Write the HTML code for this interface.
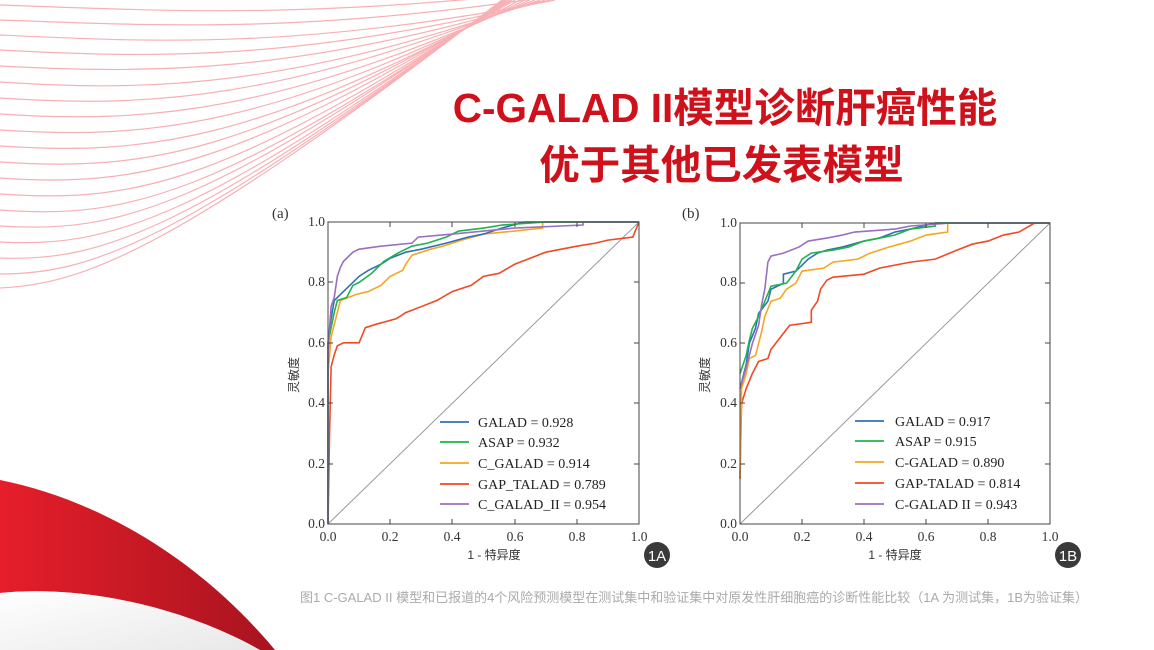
<!DOCTYPE html>
<html><head><meta charset="utf-8"><style>
body{margin:0;width:1154px;height:650px;overflow:hidden;background:#fff;position:relative;font-family:"Liberation Sans","Noto Sans CJK SC",sans-serif}
.t{position:absolute;left:0;text-align:center;color:#cf111b;font-weight:bold;font-family:"Liberation Sans","Noto Sans CJK SC",sans-serif;line-height:1}
</style></head><body>
<svg width="1154" height="650" style="position:absolute;left:0;top:0">
<defs>
<linearGradient id="rg" x1="0" y1="0" x2="1" y2="0"><stop offset="0" stop-color="#e51e2a"/><stop offset="1" stop-color="#a8141f"/></linearGradient>
<linearGradient id="gg" x1="0" y1="0" x2="1" y2="1"><stop offset="0" stop-color="#fff"/><stop offset="1" stop-color="#e8e8e8"/></linearGradient>
</defs>
<g fill="none" stroke="#f7a8ac" stroke-width="1.2" opacity="0.9">
<path d="M0,5 C150,10 300,20 560,-10"/><path d="M0,20 C150,25 300,35 560,-5"/><path d="M0,35 C150,42 300,50 555,0"/>
<path d="M0,50 C150,58 300,62 550,0"/><path d="M0,66 C150,74 300,74 545,0"/><path d="M0,82 C150,92 290,88 540,0"/>
<path d="M0,98 C150,108 280,100 535,0"/><path d="M0,114 C150,124 280,112 530,0"/><path d="M0,130 C150,140 270,126 525,0"/>
<path d="M0,146 C150,156 260,140 520,0"/><path d="M0,162 C150,172 250,152 515,0"/><path d="M0,178 C140,188 240,166 512,0"/>
<path d="M0,194 C140,204 230,180 510,0"/><path d="M0,210 C130,220 220,194 508,0"/><path d="M0,226 C120,234 210,206 506,0"/>
<path d="M0,242 C110,248 200,220 505,0"/><path d="M0,258 C100,262 190,232 504,0"/><path d="M0,274 C90,274 180,244 503,0"/>
<path d="M0,288 C80,284 170,256 502,0"/>
</g>
<path d="M0,480 C100,500 200,560 275,650 L260,650 C180,605 80,585 0,593 Z" fill="url(#rg)"/>
<path d="M0,593 C80,585 180,605 260,650 L0,650 Z" fill="url(#gg)"/>
</svg>
<div class="t" style="top:88px;font-size:40.5px;width:1450px">C-GALAD II模型诊断肝癌性能</div>
<div class="t" style="top:145px;font-size:40.5px;width:1443px">优于其他已发表模型</div>

<svg width="1154" height="650" style="position:absolute;left:0;top:0" font-family="Liberation Serif,serif">
<!-- LEFT -->
<text x="272" y="218" font-size="15" fill="#333">(a)</text>
<g font-size="13.5" fill="#333" text-anchor="end">
<text x="325" y="528">0.0</text><text x="325" y="468">0.2</text><text x="325" y="407">0.4</text><text x="325" y="347">0.6</text><text x="325" y="286">0.8</text><text x="325" y="226">1.0</text></g>
<g font-size="13.5" fill="#333" text-anchor="middle">
<text x="328" y="541">0.0</text><text x="390" y="541">0.2</text><text x="452" y="541">0.4</text><text x="515" y="541">0.6</text><text x="577" y="541">0.8</text><text x="639" y="541">1.0</text></g>
<text x="494" y="559" font-size="12" fill="#333" text-anchor="middle" font-family="Liberation Sans,Noto Sans CJK SC,sans-serif">1 - 特异度</text>
<text transform="translate(298,375) rotate(-90)" font-size="12" fill="#333" text-anchor="middle" font-family="Liberation Sans,Noto Sans CJK SC,sans-serif">灵敏度</text>
<g transform="translate(328,524) scale(311,-302)" fill="none" stroke-width="1.6">
<path vector-effect="non-scaling-stroke" stroke="#999" stroke-width="1" d="M0,0 L1,1"/>
<polyline vector-effect="non-scaling-stroke" stroke="#f04a24" points="0,0 0.005,0.3 0.01,0.52 0.02,0.56 0.03,0.59 0.05,0.6 0.1,0.6 0.12,0.65 0.15,0.66 0.22,0.68 0.25,0.7 0.3,0.72 0.35,0.74 0.4,0.77 0.46,0.79 0.5,0.82 0.55,0.83 0.6,0.86 0.65,0.88 0.7,0.9 0.8,0.92 0.86,0.93 0.9,0.94 0.98,0.95 1,1"/>
<polyline vector-effect="non-scaling-stroke" stroke="#f5a623" points="0,0 0,0.5 0.01,0.62 0.03,0.7 0.04,0.74 0.09,0.76 0.13,0.77 0.17,0.79 0.2,0.82 0.24,0.84 0.25,0.86 0.27,0.89 0.33,0.91 0.37,0.92 0.43,0.94 0.5,0.96 0.6,0.97 0.69,0.98 0.69,1.0 1,1"/>
<polyline vector-effect="non-scaling-stroke" stroke="#2f72b8" points="0,0 0,0.6 0.01,0.68 0.02,0.74 0.04,0.76 0.06,0.78 0.08,0.8 0.1,0.82 0.13,0.84 0.17,0.86 0.2,0.88 0.25,0.9 0.3,0.91 0.38,0.93 0.45,0.95 0.5,0.96 0.56,0.98 0.63,1.0 1,1"/>
<polyline vector-effect="non-scaling-stroke" stroke="#22b24c" points="0,0 0,0.6 0.02,0.7 0.03,0.74 0.06,0.75 0.08,0.79 0.1,0.8 0.14,0.83 0.18,0.87 0.23,0.9 0.27,0.92 0.32,0.93 0.38,0.95 0.42,0.97 0.5,0.98 0.56,0.99 0.7,1.0 1,1"/>
<polyline vector-effect="non-scaling-stroke" stroke="#9b6fc0" points="0,0 0,0.55 0.005,0.65 0.01,0.72 0.02,0.75 0.03,0.82 0.04,0.85 0.05,0.87 0.06,0.88 0.08,0.9 0.1,0.91 0.17,0.92 0.27,0.93 0.29,0.95 0.4,0.96 0.5,0.97 0.6,0.98 0.82,0.99 0.82,1.0 1,1"/>
</g>
<rect x="328" y="222" width="311" height="302" fill="none" stroke="#444" stroke-width="1"/>
<g stroke="#444" stroke-width="1">
<path d="M390,524v-5M452,524v-5M515,524v-5M577,524v-5M390,222v5M452,222v5M515,222v5M577,222v5M328,464h5M328,403h5M328,343h5M328,282h5M639,464h-5M639,403h-5M639,343h-5M639,282h-5"/></g>
<g font-size="14" fill="#222">
<text x="478" y="427">GALAD = 0.928</text><text x="478" y="447">ASAP = 0.932</text><text x="478" y="468">C_GALAD = 0.914</text><text x="478" y="489">GAP_TALAD = 0.789</text><text x="478" y="509">C_GALAD_II = 0.954</text></g>
<g stroke-width="1.8"><path d="M440,422h29" stroke="#2f72b8"/><path d="M440,442h29" stroke="#22b24c"/><path d="M440,463h29" stroke="#f5a623"/><path d="M440,484h29" stroke="#f04a24"/><path d="M440,504h29" stroke="#9b6fc0"/></g>
<circle cx="657" cy="555" r="13" fill="#3a3a3a"/><text x="657" y="561" font-size="15" fill="#fff" text-anchor="middle" font-family="Liberation Sans,sans-serif">1A</text>

<!-- RIGHT -->
<text x="682" y="218" font-size="15" fill="#333">(b)</text>
<g font-size="13.5" fill="#333" text-anchor="end">
<text x="737" y="528">0.0</text><text x="737" y="468">0.2</text><text x="737" y="407">0.4</text><text x="737" y="347">0.6</text><text x="737" y="286">0.8</text><text x="737" y="227">1.0</text></g>
<g font-size="13.5" fill="#333" text-anchor="middle">
<text x="740" y="541">0.0</text><text x="802" y="541">0.2</text><text x="864" y="541">0.4</text><text x="926" y="541">0.6</text><text x="988" y="541">0.8</text><text x="1050" y="541">1.0</text></g>
<text x="895" y="559" font-size="12" fill="#333" text-anchor="middle" font-family="Liberation Sans,Noto Sans CJK SC,sans-serif">1 - 特异度</text>
<text transform="translate(709,375) rotate(-90)" font-size="12" fill="#333" text-anchor="middle" font-family="Liberation Sans,Noto Sans CJK SC,sans-serif">灵敏度</text>
<g transform="translate(740,524) scale(310,-301)" fill="none" stroke-width="1.6">
<path vector-effect="non-scaling-stroke" stroke="#999" stroke-width="1" d="M0,0 L1,1"/>
<polyline vector-effect="non-scaling-stroke" stroke="#f04a24" points="0,0.15 0.005,0.4 0.02,0.45 0.04,0.5 0.06,0.54 0.09,0.55 0.1,0.58 0.13,0.62 0.16,0.66 0.23,0.67 0.23,0.71 0.25,0.74 0.26,0.78 0.28,0.81 0.3,0.82 0.4,0.83 0.45,0.85 0.5,0.86 0.55,0.87 0.63,0.88 0.7,0.91 0.75,0.93 0.8,0.94 0.85,0.96 0.9,0.97 0.95,1.0 1,1"/>
<polyline vector-effect="non-scaling-stroke" stroke="#f5a623" points="0,0.15 0.005,0.45 0.02,0.5 0.03,0.55 0.05,0.56 0.06,0.6 0.07,0.64 0.08,0.69 0.1,0.74 0.13,0.75 0.15,0.78 0.18,0.8 0.2,0.84 0.27,0.85 0.3,0.87 0.38,0.88 0.42,0.9 0.48,0.92 0.55,0.94 0.6,0.96 0.67,0.97 0.67,1 1,1"/>
<polyline vector-effect="non-scaling-stroke" stroke="#2f72b8" points="0,0.45 0.02,0.53 0.03,0.6 0.05,0.65 0.06,0.7 0.09,0.74 0.1,0.78 0.14,0.8 0.14,0.83 0.18,0.84 0.2,0.86 0.22,0.88 0.25,0.9 0.28,0.91 0.33,0.92 0.4,0.94 0.45,0.95 0.5,0.97 0.55,0.98 0.63,1 1,1"/>
<polyline vector-effect="non-scaling-stroke" stroke="#22b24c" points="0,0.5 0.02,0.56 0.03,0.61 0.04,0.65 0.06,0.69 0.08,0.74 0.1,0.79 0.15,0.8 0.18,0.84 0.2,0.88 0.23,0.9 0.3,0.91 0.35,0.92 0.4,0.94 0.5,0.96 0.55,0.98 0.63,0.99 0.63,1.0 1,1"/>
<polyline vector-effect="non-scaling-stroke" stroke="#9b6fc0" points="0,0.45 0.02,0.52 0.04,0.6 0.06,0.66 0.07,0.73 0.08,0.78 0.09,0.87 0.1,0.89 0.14,0.9 0.19,0.92 0.22,0.94 0.28,0.95 0.33,0.96 0.37,0.97 0.5,0.98 0.55,0.99 0.68,1.0 1,1"/>
</g>
<rect x="740" y="223" width="310" height="301" fill="none" stroke="#444" stroke-width="1"/>
<g stroke="#444" stroke-width="1">
<path d="M802,524v-5M864,524v-5M926,524v-5M988,524v-5M802,223v5M864,223v5M926,223v5M988,223v5M740,464h5M740,403h5M740,343h5M740,283h5M1050,464h-5M1050,403h-5M1050,343h-5M1050,283h-5"/></g>
<g font-size="14" fill="#222">
<text x="895" y="426">GALAD = 0.917</text><text x="895" y="446">ASAP = 0.915</text><text x="895" y="467">C-GALAD = 0.890</text><text x="895" y="488">GAP-TALAD = 0.814</text><text x="895" y="509">C-GALAD II = 0.943</text></g>
<g stroke-width="1.8"><path d="M855,421h29" stroke="#2f72b8"/><path d="M855,441h29" stroke="#22b24c"/><path d="M855,462h29" stroke="#f5a623"/><path d="M855,483h29" stroke="#f04a24"/><path d="M855,504h29" stroke="#9b6fc0"/></g>
<circle cx="1068" cy="555" r="13" fill="#3a3a3a"/><text x="1068" y="561" font-size="15" fill="#fff" text-anchor="middle" font-family="Liberation Sans,sans-serif">1B</text>

<text x="694" y="602" font-size="13" fill="#aaa" text-anchor="middle" font-family="Liberation Sans,Noto Sans CJK SC,sans-serif">图1 C-GALAD II 模型和已报道的4个风险预测模型在测试集中和验证集中对原发性肝细胞癌的诊断性能比较（1A 为测试集，1B为验证集）</text>
</svg>
</body></html>
